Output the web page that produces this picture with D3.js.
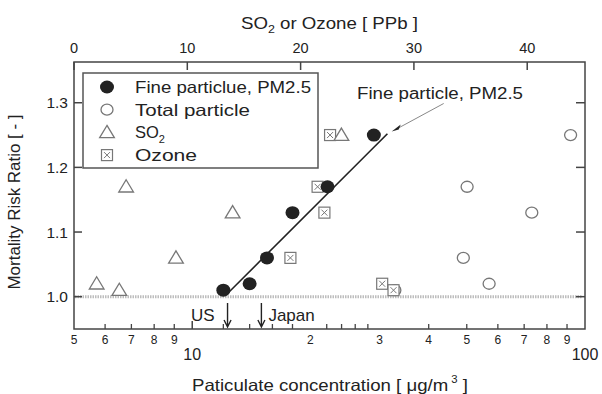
<!DOCTYPE html>
<html>
<head>
<meta charset="utf-8">
<script src="https://cdn.jsdelivr.net/npm/d3@7"></script>
<style>
body { margin: 0; background: #fff; }
text { font-family: Arial, "Liberation Sans", sans-serif; fill: #222; }
</style>
</head>
<body>
<svg id="chart" width="602" height="394"></svg>
<script>
// PM2.5 (bottom log axis, ug/m3)
const pmConc = [12.0, 14.0, 15.5, 18.0, 22.1, 29.0];
const pmRatio = [1.01, 1.02, 1.06, 1.13, 1.17, 1.25];
// total particle (bottom log axis)
const tpConc = [32.8, 49.0, 50.1, 57.0, 73.2, 91.9];
const tpRatio = [1.01, 1.06, 1.17, 1.02, 1.13, 1.25];
// SO2 (top axis, ppb)
const so2Ppb = [2.0, 4.0, 4.6, 9.0, 14.0, 23.6];
const so2Ratio = [1.02, 1.01, 1.17, 1.06, 1.13, 1.25];
// ozone (top axis, ppb)
const o3Ppb = [19.1, 21.5, 22.1, 22.6, 27.2, 28.2];
const o3Ratio = [1.06, 1.17, 1.13, 1.25, 1.02, 1.01];
// fitted PM2.5 line
const fitConc = [12.3, 31.4];
const fitRatio = [1.005, 1.252];
// standards marked on the x axis
const stdNames = ["US", "Japan"];
const stdConc = [12.3, 15];

const yTicks = [1.0, 1.1, 1.2, 1.3];
const topTicks = [0, 10, 20, 30, 40];
const botMinor = [6, 7, 8, 9, 12, 14, 16, 18, 22, 24, 26, 28, 40, 50, 60, 70, 80, 90];
const botSmallLabels = [5, 6, 7, 8, 9, 20, 30, 40, 50, 60, 70, 80, 90];
const botBigLabels = [10, 100];

const svg = d3.select("#chart");
const pLeft = 74, pRight = 585, pTop = 62, pBottom = 329;

const x = d3.scaleLog().domain([5, 100]).range([pLeft, pRight]);
const xTop = d3.scaleLinear().domain([0, 45.1]).range([pLeft, pRight]);
const y = d3.scaleLinear().domain([0.95, 1.363]).range([pBottom, pTop]);

// dotted reference line at 1.0
svg.append("line")
    .attr("x1", pLeft + 1).attr("x2", pRight - 3)
    .attr("y1", y(1.0)).attr("y2", y(1.0))
    .attr("stroke", "#bdbdbd")
    .attr("stroke-width", 3)
    .attr("stroke-dasharray", "1.5 1");

// frame
svg.append("rect")
    .attr("x", pLeft).attr("y", pTop)
    .attr("width", pRight - pLeft).attr("height", pBottom - pTop)
    .attr("fill", "none")
    .attr("stroke", "#444")
    .attr("stroke-width", 1.5);

// y ticks, both sides, inward
svg.selectAll(".ytl").data(yTicks).enter().append("line")
    .attr("x1", pLeft).attr("x2", pLeft + 8)
    .attr("y1", d => y(d)).attr("y2", d => y(d))
    .attr("stroke", "#444").attr("stroke-width", 1.5);
svg.selectAll(".ytr").data(yTicks).enter().append("line")
    .attr("x1", pRight - 9).attr("x2", pRight)
    .attr("y1", d => y(d)).attr("y2", d => y(d))
    .attr("stroke", "#444").attr("stroke-width", 1.5);
svg.selectAll(".ylab").data(yTicks).enter().append("text")
    .attr("x", pLeft - 6)
    .attr("y", d => y(d) + 5.5)
    .attr("text-anchor", "end")
    .attr("font-size", 15.5)
    .text(d => d.toFixed(1));

// top axis
svg.selectAll(".ttk").data(topTicks).enter().append("line")
    .attr("x1", d => xTop(d)).attr("x2", d => xTop(d))
    .attr("y1", pTop).attr("y2", pTop + 8)
    .attr("stroke", "#444").attr("stroke-width", 1.5);
svg.selectAll(".tlab").data(topTicks).enter().append("text")
    .attr("x", d => xTop(d))
    .attr("y", 53)
    .attr("text-anchor", "middle")
    .attr("font-size", 14.5)
    .text(d => d);

// bottom axis
svg.selectAll(".btk").data(botMinor).enter().append("line")
    .attr("x1", d => x(d)).attr("x2", d => x(d))
    .attr("y1", pBottom).attr("y2", pBottom - 5)
    .attr("stroke", "#444").attr("stroke-width", 1.3);
svg.append("line")
    .attr("x1", x(10)).attr("x2", x(10))
    .attr("y1", pBottom).attr("y2", pBottom - 8)
    .attr("stroke", "#444").attr("stroke-width", 1.5);
svg.selectAll(".bsl").data(botSmallLabels).enter().append("text")
    .attr("x", d => x(d))
    .attr("y", 344)
    .attr("text-anchor", "middle")
    .attr("font-size", 12)
    .text(d => d < 10 ? d : d / 10);
svg.selectAll(".bbl").data(botBigLabels).enter().append("text")
    .attr("x", d => x(d))
    .attr("y", 360)
    .attr("text-anchor", "middle")
    .attr("font-size", 16)
    .text(d => d);

// axis titles
const topTitle = svg.append("text")
    .attr("x", 241).attr("y", 29)
    .attr("font-size", 16.5)
    .attr("textLength", 177)
    .attr("lengthAdjust", "spacingAndGlyphs");
topTitle.append("tspan").text("SO");
topTitle.append("tspan").attr("dy", 4).attr("font-size", 11).text("2");
topTitle.append("tspan").attr("dy", -4).text(" or Ozone [ PPb ]");

const botTitle = svg.append("text")
    .attr("x", 192).attr("y", 391)
    .attr("font-size", 16.5)
    .attr("textLength", 276)
    .attr("lengthAdjust", "spacingAndGlyphs");
botTitle.append("tspan").text("Paticulate concentration [ \u03bcg/m");
botTitle.append("tspan").attr("dy", -8).attr("font-size", 10).text(" 3");
botTitle.append("tspan").attr("dy", 8).text(" ]");

svg.append("text")
    .attr("transform", "translate(20,202) rotate(-90)")
    .attr("text-anchor", "middle")
    .attr("font-size", 16.5)
    .attr("textLength", 175)
    .attr("lengthAdjust", "spacingAndGlyphs")
    .text("Mortality Risk Ratio [ - ]");

// fit line
svg.append("line")
    .attr("x1", x(fitConc[0])).attr("y1", y(fitRatio[0]))
    .attr("x2", x(fitConc[1])).attr("y2", y(fitRatio[1]))
    .attr("stroke", "#222").attr("stroke-width", 1.6);

// marker drawers
function triangle(g, cx, cy) {
    const s = 7;
    g.append("path")
        .attr("d", `M${cx},${cy - s} L${cx + s * 1.05},${cy + s * 0.75} L${cx - s * 1.05},${cy + s * 0.75} Z`)
        .attr("fill", "#fff").attr("stroke", "#777").attr("stroke-width", 1.3);
}
function boxX(g, cx, cy) {
    const s = 5.5;
    g.append("rect")
        .attr("x", cx - s).attr("y", cy - s)
        .attr("width", 2 * s).attr("height", 2 * s)
        .attr("fill", "#fff").attr("stroke", "#777").attr("stroke-width", 1.2);
    g.append("path")
        .attr("d", `M${cx - 3},${cy - 3} L${cx + 3},${cy + 3} M${cx + 3},${cy - 3} L${cx - 3},${cy + 3}`)
        .attr("stroke", "#777").attr("stroke-width", 1);
}
function openCircle(g, cx, cy) {
    g.append("ellipse")
        .attr("cx", cx).attr("cy", cy).attr("rx", 6).attr("ry", 5.5)
        .attr("fill", "#fff").attr("stroke", "#777").attr("stroke-width", 1.3);
}
function dot(g, cx, cy) {
    g.append("ellipse")
        .attr("cx", cx).attr("cy", cy).attr("rx", 7).attr("ry", 6.5)
        .attr("fill", "#222");
}

const marks = svg.append("g");
tpConc.forEach((c, i) => openCircle(marks, x(c), y(tpRatio[i])));
o3Ppb.forEach((p, i) => boxX(marks, xTop(p), y(o3Ratio[i])));
so2Ppb.forEach((p, i) => triangle(marks, xTop(p), y(so2Ratio[i])));
pmConc.forEach((c, i) => dot(marks, x(c), y(pmRatio[i])));

// annotation arrow for fitted line
const tipX = x(32.2), tipY = y(1.2555);
svg.append("line")
    .attr("x1", tipX + 52).attr("y1", tipY - 28)
    .attr("x2", tipX + 4).attr("y2", tipY - 2)
    .attr("stroke", "#888").attr("stroke-width", 1);
svg.append("path")
    .attr("d", `M${tipX},${tipY} L${tipX + 9},${tipY - 7} L${tipX + 7},${tipY - 2} Z`)
    .attr("fill", "#222");
svg.append("text")
    .attr("x", 357).attr("y", 99)
    .attr("font-size", 16)
    .attr("textLength", 166)
    .attr("lengthAdjust", "spacingAndGlyphs")
    .text("Fine particle, PM2.5");

// standard arrows
stdConc.forEach((c, i) => {
    const ax = x(c);
    svg.append("path")
        .attr("d", `M${ax},${pBottom - 26} L${ax},${pBottom - 2} M${ax - 3.5},${pBottom - 9} L${ax},${pBottom - 2} L${ax + 3.5},${pBottom - 9}`)
        .attr("fill", "none").attr("stroke", "#222").attr("stroke-width", 1.4);
    svg.append("text")
        .attr("x", i === 0 ? ax - 13 : ax + 7)
        .attr("y", 321)
        .attr("text-anchor", i === 0 ? "end" : "start")
        .attr("font-family", "Lato, 'Open Sans', sans-serif")
        .attr("font-size", 17)
        .text(stdNames[i]);
});

// legend
const legNames = ["Fine particlue, PM2.5", "Total particle", "SO2", "Ozone"];
const legDraw = [dot, openCircle, triangle, boxX];
const leg = svg.append("g");
leg.append("rect")
    .attr("x", 83).attr("y", 73).attr("width", 235).attr("height", 95)
    .attr("fill", "#fff").attr("stroke", "#555").attr("stroke-width", 1.5);
legNames.forEach((n, i) => {
    const ly = 87 + i * 22.7;
    legDraw[i](leg, 107, ly);
    const t = leg.append("text").attr("x", 135).attr("y", ly + 6).attr("font-size", 16.5);
    if (n === "SO2") {
        t.append("tspan").text("SO");
        t.append("tspan").attr("dy", 5).attr("font-size", 11).text("2");
    } else {
        t.attr("textLength", i === 0 ? 176 : 115).attr("lengthAdjust", "spacingAndGlyphs").text(n);
        if (i === 3) t.attr("textLength", 62);
    }
});
</script>
</body>
</html>
